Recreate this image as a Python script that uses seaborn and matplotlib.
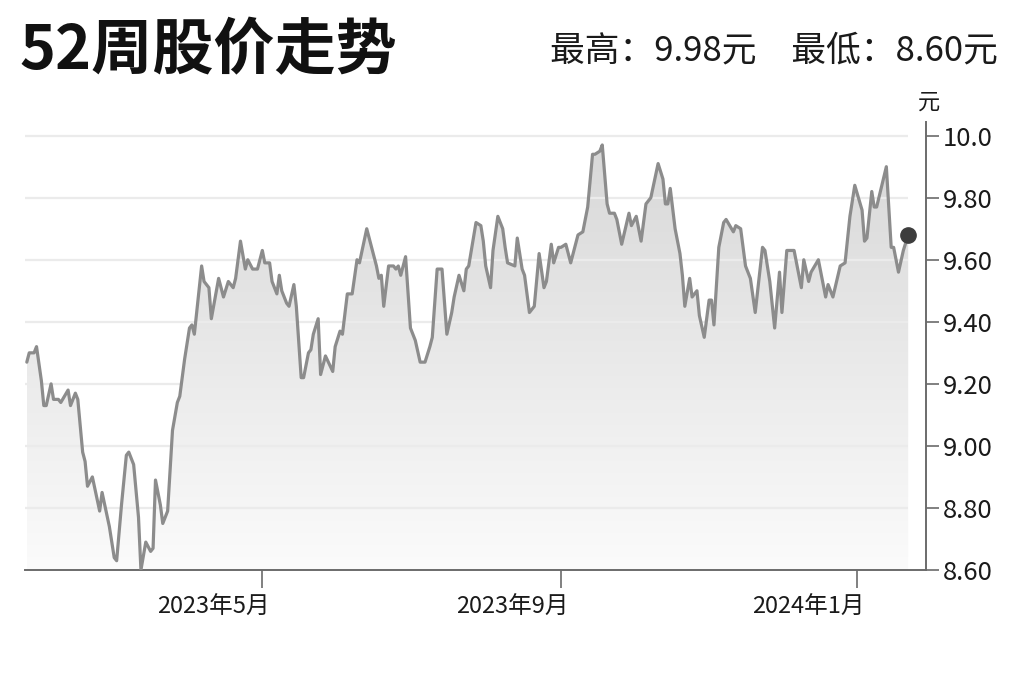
import numpy as np
import pandas as pd
import seaborn as sns
import matplotlib.pyplot as plt
import matplotlib.dates as mdates
from matplotlib.colors import LinearSegmentedColormap
from matplotlib.patches import Polygon

# daily close
dates = [
    "2023-01-24", "2023-01-25", "2023-01-27", "2023-01-28", "2023-01-30", "2023-01-31",
    "2023-02-01", "2023-02-03", "2023-02-04", "2023-02-06", "2023-02-07", "2023-02-10",
    "2023-02-11", "2023-02-13", "2023-02-14", "2023-02-16", "2023-02-17", "2023-02-18",
    "2023-02-20", "2023-02-23", "2023-02-24", "2023-02-27", "2023-03-01", "2023-03-02",
    "2023-03-04", "2023-03-06", "2023-03-07", "2023-03-09", "2023-03-11", "2023-03-12",
    "2023-03-14", "2023-03-16", "2023-03-17", "2023-03-18", "2023-03-20", "2023-03-21",
    "2023-03-23", "2023-03-25", "2023-03-27", "2023-03-28", "2023-03-30", "2023-04-01",
    "2023-04-02", "2023-04-03", "2023-04-06", "2023-04-07", "2023-04-09", "2023-04-10",
    "2023-04-13", "2023-04-15", "2023-04-17", "2023-04-19", "2023-04-20", "2023-04-22",
    "2023-04-24", "2023-04-25", "2023-04-27", "2023-04-29", "2023-05-01", "2023-05-02",
    "2023-05-04", "2023-05-05", "2023-05-07", "2023-05-08", "2023-05-09", "2023-05-11",
    "2023-05-12", "2023-05-14", "2023-05-15", "2023-05-17", "2023-05-18", "2023-05-20",
    "2023-05-21", "2023-05-22", "2023-05-24", "2023-05-25", "2023-05-27", "2023-05-30",
    "2023-05-31", "2023-06-02", "2023-06-03", "2023-06-05", "2023-06-07", "2023-06-09",
    "2023-06-10", "2023-06-13", "2023-06-15", "2023-06-17", "2023-06-18", "2023-06-19",
    "2023-06-20", "2023-06-22", "2023-06-24", "2023-06-25", "2023-06-26", "2023-06-27",
    "2023-06-29", "2023-07-01", "2023-07-03", "2023-07-05", "2023-07-07", "2023-07-09",
    "2023-07-10", "2023-07-12", "2023-07-14", "2023-07-16", "2023-07-18", "2023-07-19",
    "2023-07-21", "2023-07-23", "2023-07-24", "2023-07-25", "2023-07-28", "2023-07-30",
    "2023-07-31", "2023-08-01", "2023-08-03", "2023-08-04", "2023-08-06", "2023-08-08",
    "2023-08-09", "2023-08-10", "2023-08-13", "2023-08-14", "2023-08-16", "2023-08-17",
    "2023-08-19", "2023-08-21", "2023-08-23", "2023-08-25", "2023-08-26", "2023-08-28",
    "2023-08-29", "2023-08-31", "2023-09-01", "2023-09-03", "2023-09-05", "2023-09-08",
    "2023-09-10", "2023-09-12", "2023-09-14", "2023-09-15", "2023-09-17", "2023-09-18",
    "2023-09-20", "2023-09-21", "2023-09-23", "2023-09-24", "2023-09-26", "2023-09-29",
    "2023-09-30", "2023-10-02", "2023-10-04", "2023-10-06", "2023-10-08", "2023-10-11",
    "2023-10-13", "2023-10-14", "2023-10-15", "2023-10-16", "2023-10-18", "2023-10-20",
    "2023-10-21", "2023-10-22", "2023-10-24", "2023-10-25", "2023-10-27", "2023-10-28",
    "2023-10-30", "2023-11-01", "2023-11-02", "2023-11-03", "2023-11-05", "2023-11-07",
    "2023-11-08", "2023-11-11", "2023-11-12", "2023-11-14", "2023-11-16", "2023-11-18",
    "2023-11-20", "2023-11-23", "2023-11-24", "2023-11-26", "2023-11-28", "2023-11-30",
    "2023-12-01", "2023-12-03", "2023-12-06", "2023-12-09", "2023-12-10", "2023-12-12",
    "2023-12-13", "2023-12-16", "2023-12-19", "2023-12-20", "2023-12-22", "2023-12-25",
    "2023-12-27", "2023-12-29", "2023-12-31", "2024-01-03", "2024-01-04", "2024-01-05",
    "2024-01-07", "2024-01-08", "2024-01-09", "2024-01-13", "2024-01-15", "2024-01-16",
    "2024-01-18", "2024-01-20", "2024-01-22",
]
price = [
    9.27, 9.30, 9.30, 9.32, 9.21, 9.13,
    9.13, 9.20, 9.15, 9.15, 9.14, 9.18,
    9.13, 9.17, 9.15, 8.98, 8.95, 8.87,
    8.90, 8.79, 8.85, 8.74, 8.64, 8.63,
    8.81, 8.97, 8.98, 8.94, 8.77, 8.60,
    8.69, 8.66, 8.67, 8.89, 8.81, 8.75,
    8.79, 9.05, 9.14, 9.16, 9.28, 9.38,
    9.39, 9.36, 9.58, 9.53, 9.51, 9.41,
    9.54, 9.48, 9.53, 9.51, 9.54, 9.66,
    9.57, 9.60, 9.57, 9.57, 9.63, 9.59,
    9.59, 9.53, 9.49, 9.55, 9.50, 9.46,
    9.45, 9.52, 9.45, 9.22, 9.22, 9.30,
    9.31, 9.36, 9.41, 9.23, 9.29, 9.24,
    9.32, 9.37, 9.36, 9.49, 9.49, 9.60,
    9.59, 9.70, 9.64, 9.58, 9.54, 9.55,
    9.45, 9.58, 9.58, 9.57, 9.58, 9.55,
    9.61, 9.38, 9.34, 9.27, 9.27, 9.32,
    9.35, 9.57, 9.57, 9.36, 9.43, 9.48,
    9.55, 9.50, 9.57, 9.58, 9.72, 9.71,
    9.66, 9.58, 9.51, 9.63, 9.74, 9.70,
    9.64, 9.59, 9.58, 9.67, 9.57, 9.55,
    9.43, 9.45, 9.62, 9.51, 9.53, 9.65,
    9.59, 9.64, 9.64, 9.65, 9.59, 9.68,
    9.69, 9.77, 9.94, 9.94, 9.95, 9.97,
    9.78, 9.75, 9.75, 9.73, 9.65, 9.75,
    9.71, 9.74, 9.66, 9.78, 9.80, 9.91,
    9.86, 9.78, 9.78, 9.83, 9.70, 9.62,
    9.55, 9.45, 9.54, 9.48, 9.50, 9.42,
    9.35, 9.47, 9.47, 9.39, 9.64, 9.72,
    9.73, 9.69, 9.71, 9.70, 9.58, 9.54,
    9.43, 9.64, 9.63, 9.53, 9.38, 9.56,
    9.43, 9.63, 9.63, 9.51, 9.60, 9.53,
    9.56, 9.60, 9.48, 9.52, 9.48, 9.58,
    9.59, 9.74, 9.84, 9.76, 9.66, 9.67,
    9.82, 9.77, 9.77, 9.90, 9.64, 9.64,
    9.56, 9.63, 9.68,
]

y_ticks = [8.60, 8.80, 9.00, 9.20, 9.40, 9.60, 9.80, 10.0]
y_labels = ["8.60", "8.80", "9.00", "9.20", "9.40", "9.60", "9.80", "10.0"]
x_ticks = ["2023-05-01", "2023-09-01", "2024-01-01"]
x_labels = ["2023年5月", "2023年9月", "2024年1月"]
title = "52周股价走势"
summary = "最高：9.98元　最低：8.60元"
unit = "元"

df = pd.DataFrame({"date": pd.to_datetime(dates), "price": price})

sns.set_style("white")
plt.rcParams["font.family"] = ["Noto Sans CJK SC", "DejaVu Sans"]

fig = plt.figure(figsize=(10.24, 6.82), dpi=100)
ax = fig.add_axes([0.0244, 0.1642, 0.8799, 0.6569])

line_col = "#8c8c8c"
axis_col = "#6b6b6b"
text_col = "#1a1a1a"

sns.lineplot(data=df, x="date", y="price", ax=ax, color=line_col, lw=2.3, zorder=4)
ax.lines[0].set_solid_joinstyle("round")

# gradient fill under the line, clipped to the area
xnum = mdates.date2num(df["date"])
ybase = y_ticks[0]
verts = [(xnum[0], ybase)] + list(zip(xnum, df["price"])) + [(xnum[-1], ybase)]
area = Polygon(verts, closed=True, facecolor="none", edgecolor="none")
ax.add_patch(area)
fade = LinearSegmentedColormap.from_list("fade", ["#fbfbfb", "#d7d7d7"])
grad = np.linspace(1, 0, 256).reshape(-1, 1)
im = ax.imshow(grad, extent=[xnum[0], xnum[-1], ybase, y_ticks[-1]],
               aspect="auto", cmap=fade, origin="upper", zorder=1)
im.set_clip_path(area)

# grid lines only over the data span
x_left = mdates.date2num(pd.Timestamp("2023-01-23 06:00"))
x_right = mdates.date2num(pd.Timestamp("2024-01-29 08:00"))
ax.hlines(y_ticks[1:], x_left, xnum[-1], color="#ebebeb", lw=1.6, zorder=2)

# last close marker
ax.plot(xnum[-1], df["price"].iloc[-1], "o", ms=11, color="#3d3d3d", zorder=5)

ax.set_xlim(x_left, x_right)
ax.set_ylim(8.60, 10.044)

# month ticks; the labels sit left of their tick like in the source graphic
ax.set_xticks(pd.to_datetime(x_ticks))
ax.set_xticklabels([])
for d, lab in zip(pd.to_datetime(x_ticks), x_labels):
    ax.annotate(lab, xy=(mdates.date2num(d), 0), xycoords=("data", "axes fraction"),
                xytext=(-35, -27), textcoords="offset points",
                ha="center", va="center", fontsize=17, color=text_col)

ax.yaxis.tick_right()
ax.set_yticks(y_ticks)
ax.set_yticklabels(y_labels, fontsize=18.5, color=text_col)

ax.tick_params(axis="x", bottom=True, direction="out", length=13, width=1.2, color=axis_col)
ax.tick_params(axis="y", right=True, direction="out", length=9, width=1.2, color=axis_col, pad=3)

ax.set_xlabel("")
ax.set_ylabel("")
for side in ["top", "left"]:
    ax.spines[side].set_visible(False)
for side in ["bottom", "right"]:
    ax.spines[side].set_color(axis_col)
    ax.spines[side].set_linewidth(1.4)

fig.text(0.019, 0.924, title, fontsize=44, fontweight="bold", va="center", ha="left", color="#111111")
fig.text(0.974, 0.925, summary, fontsize=25, va="center", ha="right", color=text_col)
fig.text(0.907, 0.850, unit, fontsize=16, va="center", ha="center", color=text_col)

plt.savefig("out.png", dpi=100, facecolor="white")
plt.close()
